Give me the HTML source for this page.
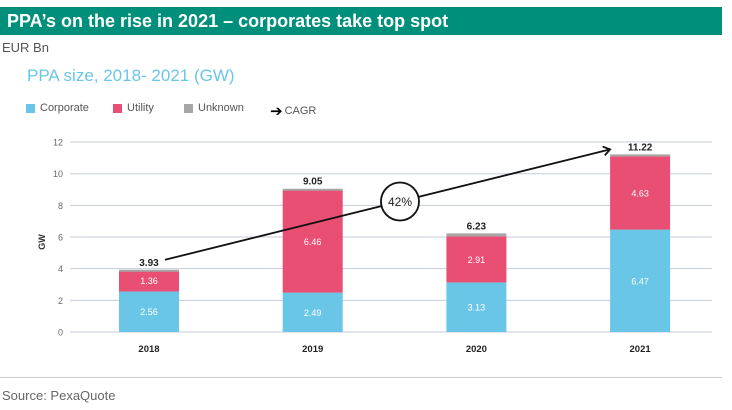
<!DOCTYPE html>
<html><head><meta charset="utf-8"><style>
body{margin:0;width:732px;height:410px;background:#fff;overflow:hidden;font-family:"Liberation Sans",sans-serif;position:relative}
.hdr{position:absolute;left:0;top:7px;width:722px;height:28px;background:#008f7a;color:#fff;font-weight:bold;font-size:18px;line-height:28px;padding-left:7px;box-sizing:border-box}
.unit{position:absolute;left:2px;top:40px;font-size:13px;color:#555}
.sub{position:absolute;left:27px;top:66px;font-size:17px;color:#6ac6e6}
.leg{position:absolute;top:102px;font-size:11px;color:#555;display:flex;align-items:center}
.sw{width:9px;height:9px;display:inline-block;margin-right:5px}
.sep{position:absolute;left:0;top:377px;width:722px;height:1px;background:#ccc}
.src{position:absolute;left:2px;top:388px;font-size:13px;color:#666}
</style></head><body>
<div class="hdr">PPA’s on the rise in 2021 – corporates take top spot</div>
<div class="unit">EUR Bn</div>
<div class="sub">PPA size, 2018- 2021 (GW)</div>
<div class="leg" style="left:26px"><span class="sw" style="background:#6ac6e6"></span>Corporate</div>
<div class="leg" style="left:113px"><span class="sw" style="background:#e94f73"></span>Utility</div>
<div class="leg" style="left:184px"><span class="sw" style="background:#a6a6a6"></span>Unknown</div>
<div class="leg" style="left:270px"><span style="font-size:15px;color:#000;margin-right:2px">➔</span>CAGR</div>
<svg id="chart" width="732" height="410" style="position:absolute;left:0;top:0"></svg>
<div class="sep"></div>
<div class="src">Source: PexaQuote</div>
<script>
const years=["2018","2019","2020","2021"];
const corporate=[2.56,2.49,3.13,6.47];
const utility=[1.36,6.46,2.91,4.63];
const totals=[3.93,9.05,6.23,11.22];
const yTicks=[0,2,4,6,8,10,12];
const cagrLabel="42%";
const NS="http://www.w3.org/2000/svg";
const svg=document.getElementById('chart');
const y0=332,pxPerUnit=15.83,xStart=149,xStep=163.7,bw=60;
const ys=v=>y0-v*pxPerUnit;
const xs=i=>xStart+i*xStep;
function mk(t,a,txt){const e=document.createElementNS(NS,t);for(const k in a)e.setAttribute(k,a[k]);if(txt!=null)e.textContent=txt;svg.appendChild(e);return e;}
yTicks.forEach(t=>{
 const l=mk('line',{x1:70,x2:712,y1:ys(t),y2:ys(t),stroke:'#c5cdd8','stroke-width':1});
 
 
 const tx=mk('text',{x:63,y:ys(t)+3.5,'text-anchor':'end','font-size':9,fill:'#666'},t);
 
 
});
const gw=mk('text',{x:0,y:0,'font-size':9,'font-weight':'bold',fill:'#333','text-anchor':'middle',transform:'translate(45,242) rotate(-90)'},'GW');


years.forEach((yr,i)=>{
 const x=xs(i)-bw/2;
 const unk=Math.max(totals[i]-corporate[i]-utility[i],0);
 const c=mk('rect',{x:x,y:ys(corporate[i]),width:bw,height:corporate[i]*pxPerUnit,fill:'#6ac6e6'});
 
 
 const u=mk('rect',{x:x,y:ys(corporate[i]+utility[i]),width:bw,height:utility[i]*pxPerUnit,fill:'#e94f73'});
 
 
 const k=mk('rect',{x:x,y:ys(totals[i]),width:bw,height:Math.max(unk*pxPerUnit,2),fill:'#a6a6a6'});
 
 
 const cl=mk('text',{x:xs(i),y:ys(corporate[i]/2)+3.5,'text-anchor':'middle','font-size':9,fill:'#fff'},corporate[i].toFixed(2));
 
 
 const ul=mk('text',{x:xs(i),y:ys(corporate[i]+utility[i]/2)+3.5,'text-anchor':'middle','font-size':9,fill:'#fff'},utility[i].toFixed(2));
 
 
 const tl=mk('text',{x:xs(i),y:ys(totals[i])-4,'text-anchor':'middle','font-size':10,'font-weight':'bold',fill:'#222'},totals[i].toFixed(2));
 
 
 const xl=mk('text',{x:xs(i),y:352,'text-anchor':'middle','font-size':9.5,'font-weight':'bold',fill:'#222'},yr);
 
 
});
const ax1=xs(0)+16,ay1=ys(totals[0])-10,ax2=xs(3)-30,ay2=ys(totals[3])-5;
const ar=mk('line',{x1:ax1,y1:ay1,x2:ax2,y2:ay2,stroke:'#111','stroke-width':1.8});


const ang=Math.atan2(ay2-ay1,ax2-ax1);
const hd=mk('polyline',{points:`${ax2-8*Math.cos(ang-0.6)},${ay2-8*Math.sin(ang-0.6)} ${ax2},${ay2} ${ax2-8*Math.cos(ang+0.6)},${ay2-8*Math.sin(ang+0.6)}`,fill:'none',stroke:'#111','stroke-width':1.8});


const t=(400-ax1)/(ax2-ax1);const cy=ay1+t*(ay2-ay1);
const ci=mk('circle',{cx:400,cy:cy,r:19,fill:'#fff',stroke:'#111','stroke-width':1.8});


const ct=mk('text',{x:400,y:cy+4.5,'text-anchor':'middle','font-size':12,fill:'#222'},cagrLabel);


</script>
</body></html>
